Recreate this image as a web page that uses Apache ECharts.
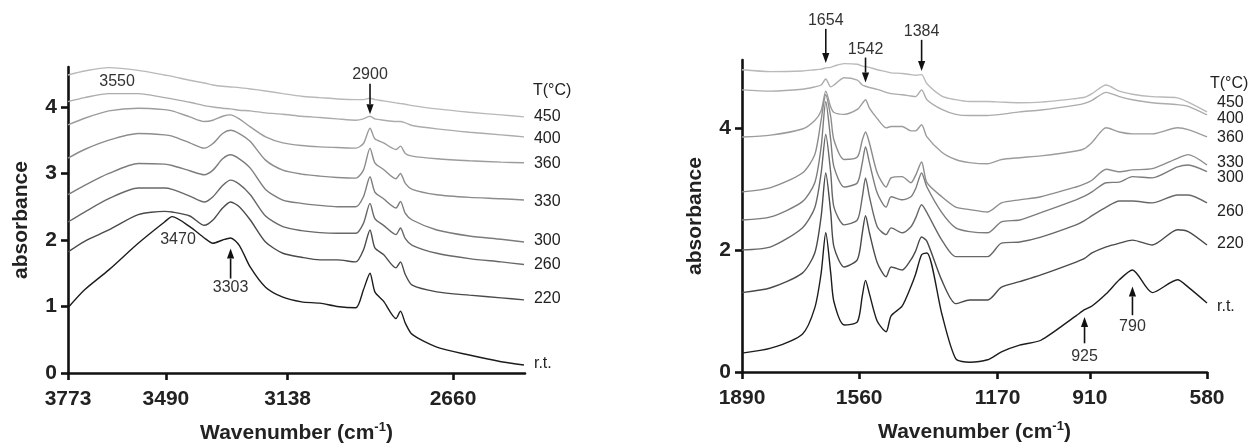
<!DOCTYPE html>
<html>
<head>
<meta charset="utf-8">
<script src="https://cdn.jsdelivr.net/npm/echarts@6/dist/echarts.min.js"></script>
<style>
  html, body { margin: 0; padding: 0; background: #ffffff; }
  #chart { width: 1250px; height: 445px; }
</style>
</head>
<body>
<div id="chart"></div>
<script>
// ---- Left panel: 3773–2450 cm-1 region ----
const LEFT_WAVENUMBER = [3773, 3725, 3655, 3570, 3494, 3472, 3421, 3379, 3354, 3326, 3303, 3278, 3246, 3202, 3152, 3098, 3045, 2995, 2941, 2919, 2900, 2886, 2861, 2825, 2812, 2798, 2778, 2707, 2613, 2521, 2455];
const LEFT_RT  = [0.98, 1.25, 1.55, 1.95, 2.27, 2.35, 2.20, 2.03, 1.95, 2.00, 2.03, 1.92, 1.59, 1.29, 1.14, 1.07, 1.05, 1.00, 0.98, 1.25, 1.50, 1.22, 1.08, 0.82, 0.93, 0.75, 0.58, 0.39, 0.27, 0.17, 0.12];
const LEFT_220 = [1.82, 1.98, 2.15, 2.38, 2.43, 2.42, 2.36, 2.22, 2.30, 2.48, 2.57, 2.50, 2.30, 1.97, 1.80, 1.74, 1.70, 1.70, 1.67, 1.85, 2.15, 1.88, 1.78, 1.58, 1.67, 1.48, 1.32, 1.22, 1.17, 1.13, 1.10];
const LEFT_260 = [2.27, 2.42, 2.62, 2.78, 2.78, 2.76, 2.66, 2.57, 2.65, 2.82, 2.90, 2.84, 2.68, 2.36, 2.20, 2.14, 2.11, 2.10, 2.10, 2.25, 2.55, 2.32, 2.22, 2.08, 2.18, 2.02, 1.92, 1.80, 1.72, 1.67, 1.63];
const LEFT_300 = [2.68, 2.82, 3.00, 3.15, 3.14, 3.12, 3.04, 2.98, 3.05, 3.22, 3.28, 3.22, 3.08, 2.76, 2.60, 2.55, 2.52, 2.50, 2.50, 2.65, 2.95, 2.72, 2.62, 2.48, 2.58, 2.40, 2.30, 2.15, 2.06, 2.01, 1.97];
const LEFT_330 = [3.23, 3.36, 3.50, 3.60, 3.58, 3.56, 3.46, 3.38, 3.45, 3.60, 3.65, 3.60, 3.48, 3.20, 3.05, 2.99, 2.96, 2.94, 2.93, 3.05, 3.38, 3.16, 3.06, 2.92, 3.00, 2.85, 2.76, 2.68, 2.64, 2.62, 2.60];
const LEFT_360 = [3.73, 3.83, 3.94, 3.98, 3.96, 3.94, 3.85, 3.78, 3.80, 3.86, 3.88, 3.82, 3.70, 3.55, 3.46, 3.42, 3.40, 3.39, 3.38, 3.45, 3.68, 3.52, 3.46, 3.36, 3.41, 3.30, 3.26, 3.22, 3.19, 3.17, 3.16];
const LEFT_400 = [4.08, 4.14, 4.20, 4.20, 4.14, 4.12, 4.07, 4.02, 4.00, 3.98, 3.97, 3.95, 3.94, 3.91, 3.89, 3.86, 3.84, 3.82, 3.80, 3.82, 3.86, 3.82, 3.80, 3.78, 3.78, 3.76, 3.72, 3.67, 3.62, 3.58, 3.55];
const LEFT_450 = [4.48, 4.54, 4.59, 4.55, 4.48, 4.46, 4.40, 4.36, 4.33, 4.31, 4.30, 4.29, 4.27, 4.24, 4.20, 4.16, 4.14, 4.12, 4.11, 4.11, 4.13, 4.11, 4.09, 4.06, 4.05, 4.04, 4.02, 3.97, 3.92, 3.88, 3.85];
const LEFT_X_TICKS = [3773, 3490, 3138, 2660];
const LEFT_Y_TICKS = [0, 1, 2, 3, 4];
const LEFT_BANDS = ['3550', '3470', '3303', '2900'];

// ---- Right panel: 1890–580 cm-1 region ----
const RIGHT_WAVENUMBER = [1890, 1809, 1720, 1685, 1667, 1654, 1640, 1631, 1602, 1565, 1551, 1542, 1531, 1509, 1484, 1470, 1439, 1414, 1401, 1384, 1369, 1327, 1288, 1249, 1198, 1159, 1108, 1048, 949, 925, 904, 864, 827, 790, 734, 663, 633, 580];
const RIGHT_RT  = [0.31, 0.39, 0.62, 1.05, 1.62, 2.28, 1.62, 1.15, 0.77, 0.82, 1.25, 1.50, 1.28, 0.83, 0.66, 0.92, 1.08, 1.40, 1.60, 1.92, 1.95, 0.95, 0.22, 0.16, 0.20, 0.33, 0.44, 0.52, 0.92, 1.02, 1.08, 1.28, 1.51, 1.67, 1.30, 1.51, 1.39, 1.13];
const RIGHT_220 = [1.30, 1.38, 1.62, 1.95, 2.55, 3.26, 2.61, 2.05, 1.72, 1.84, 2.28, 2.56, 2.28, 1.79, 1.56, 1.72, 1.67, 1.84, 1.98, 2.21, 2.14, 1.50, 1.12, 1.18, 1.18, 1.39, 1.48, 1.59, 1.80, 1.86, 1.95, 2.05, 2.11, 2.16, 2.08, 2.33, 2.30, 2.08];
const RIGHT_260 = [2.00, 2.05, 2.36, 2.69, 3.26, 3.89, 3.26, 2.70, 2.41, 2.49, 2.87, 3.18, 2.87, 2.38, 2.25, 2.36, 2.28, 2.38, 2.52, 2.74, 2.61, 2.16, 1.89, 1.89, 1.89, 2.11, 2.13, 2.21, 2.41, 2.48, 2.56, 2.70, 2.80, 2.80, 2.77, 2.90, 2.90, 2.77];
const RIGHT_300 = [2.49, 2.54, 2.79, 3.10, 3.69, 4.43, 3.80, 3.36, 3.03, 3.10, 3.43, 3.69, 3.43, 2.93, 2.70, 2.87, 2.82, 2.87, 3.00, 3.26, 3.03, 2.61, 2.36, 2.30, 2.28, 2.46, 2.49, 2.61, 2.82, 2.88, 2.95, 3.10, 3.11, 3.20, 3.18, 3.36, 3.39, 3.28];
const RIGHT_330 = [2.95, 3.02, 3.26, 3.56, 4.13, 4.54, 4.18, 3.80, 3.48, 3.52, 3.80, 3.93, 3.75, 3.26, 3.03, 3.18, 3.20, 3.10, 3.22, 3.44, 3.10, 2.87, 2.70, 2.66, 2.62, 2.77, 2.82, 2.87, 3.03, 3.08, 3.14, 3.32, 3.28, 3.31, 3.33, 3.50, 3.56, 3.39];
const RIGHT_360 = [3.85, 3.88, 3.98, 4.12, 4.28, 4.60, 4.34, 4.25, 4.22, 4.30, 4.40, 4.46, 4.32, 4.15, 4.00, 4.02, 4.02, 3.95, 3.95, 4.05, 3.85, 3.60, 3.48, 3.43, 3.41, 3.48, 3.51, 3.54, 3.62, 3.66, 3.76, 4.00, 3.93, 3.90, 3.90, 4.00, 3.97, 3.85];
const RIGHT_400 = [4.62, 4.60, 4.63, 4.67, 4.70, 4.80, 4.67, 4.70, 4.82, 4.78, 4.70, 4.68, 4.66, 4.63, 4.58, 4.56, 4.54, 4.52, 4.51, 4.62, 4.46, 4.30, 4.22, 4.20, 4.20, 4.22, 4.26, 4.29, 4.37, 4.40, 4.45, 4.58, 4.51, 4.46, 4.41, 4.38, 4.35, 4.21];
const RIGHT_450 = [4.95, 4.92, 4.93, 4.95, 4.96, 4.98, 4.99, 5.01, 5.05, 5.04, 5.01, 5.00, 4.99, 4.95, 4.92, 4.90, 4.89, 4.87, 4.86, 4.87, 4.72, 4.52, 4.46, 4.43, 4.43, 4.42, 4.41, 4.42, 4.48, 4.50, 4.56, 4.70, 4.60, 4.55, 4.51, 4.49, 4.42, 4.26];
const RIGHT_X_TICKS = [1890, 1560, 1170, 910, 580];
const RIGHT_Y_TICKS = [0, 2, 4];
const RIGHT_BANDS = ['1654', '1542', '1384', '925', '790'];

const TEMPERATURES = ['450', '400', '360', '330', '300', '260', '220', 'r.t.'];

// ---- styling ----
const FONT = '"Liberation Sans", Arial, Helvetica, sans-serif';
const CURVE_COLORS = ['#b9b9b9', '#acacac', '#9c9c9c', '#8c8c8c', '#7c7c7c', '#686868', '#4a4a4a', '#1c1c1c'];

function zip(xs, ys) { return xs.map((x, i) => [x, ys[i]]); }

function curveSeries(panel, name, xs, ys, colorIdx, labelDy) {
  return {
    type: 'line',
    name: name,
    xAxisIndex: panel, yAxisIndex: panel,
    data: zip(xs, ys),
    showSymbol: false,
    smooth: 0.25,
    silent: true,
    lineStyle: { color: CURVE_COLORS[colorIdx], width: 1.4 },
    itemStyle: { color: CURVE_COLORS[colorIdx] },
    endLabel: {
      show: true,
      formatter: name,
      color: '#222',
      fontFamily: FONT,
      fontSize: 16,
      distance: 0,
      align: 'left',
      offset: [10, labelDy]
    },
    z: 3
  };
}

// Band annotations: number text with an optional arrow pointing to the band
function annotationSeries(panel, items) {
  return {
    type: 'custom',
    xAxisIndex: panel, yAxisIndex: panel,
    silent: true,
    clip: false,
    z: 10,
    data: items.map(it => [it.w, it.textAt]),
    renderItem(params, api) {
      const it = items[params.dataIndex];
      const t = api.coord([it.w, it.textAt]);
      const children = [{
        type: 'text',
        style: {
          text: it.label, x: t[0], y: t[1], align: 'center', verticalAlign: 'middle',
          font: '16px ' + FONT, fill: '#333'
        }
      }];
      if (it.from !== undefined) {
        const p1 = api.coord([it.w, it.from]);
        const p2 = api.coord([it.w, it.to]);
        const dir = Math.sign(p2[1] - p1[1]);
        const head = 10, half = 3.6;
        children.push({
          type: 'line',
          shape: { x1: p1[0], y1: p1[1], x2: p2[0], y2: p2[1] - dir * head },
          style: { stroke: '#111', lineWidth: 1.6 }
        });
        children.push({
          type: 'polygon',
          shape: { points: [[p2[0], p2[1]], [p2[0] - half, p2[1] - dir * head], [p2[0] + half, p2[1] - dir * head]] },
          style: { fill: '#111' }
        });
      }
      return { type: 'group', children };
    }
  };
}

function xAxisFor(panel, min, max, ticks) {
  return {
    type: 'value', gridIndex: panel, inverse: true, min: min, max: max,
    name: 'Wavenumber (cm{sup|-1})',
    nameLocation: 'middle', nameGap: 48,
    nameTextStyle: {
      fontFamily: FONT, fontWeight: 'bold', fontSize: 21, color: '#222', lineHeight: 24,
      rich: { sup: { fontFamily: FONT, fontWeight: 'bold', fontSize: 13, color: '#222', verticalAlign: 'top', lineHeight: 24 } }
    },
    axisLine: { show: true, onZero: false, lineStyle: { color: '#111', width: 2.6 } },
    axisTick: { show: true, length: 7, customValues: ticks, lineStyle: { color: '#111', width: 2.6 } },
    axisLabel: {
      show: true, customValues: ticks, margin: 16, formatter: v => String(v),
      fontFamily: FONT, fontWeight: 'bold', fontSize: 21, color: '#222'
    },
    splitLine: { show: false }
  };
}

function yAxisFor(panel, max, ticks) {
  return {
    type: 'value', gridIndex: panel, min: 0, max: max,
    name: 'absorbance',
    nameLocation: 'middle', nameRotate: 90, nameGap: 36,
    nameTextStyle: { fontFamily: FONT, fontWeight: 'bold', fontSize: 21, color: '#222' },
    axisLine: { show: true, onZero: false, lineStyle: { color: '#111', width: 2.6 } },
    axisTick: { show: true, length: 7, customValues: ticks, lineStyle: { color: '#111', width: 2.6 } },
    axisLabel: {
      show: true, customValues: ticks, margin: 11, formatter: v => String(v),
      fontFamily: FONT, fontWeight: 'bold', fontSize: 21, color: '#222'
    },
    splitLine: { show: false }
  };
}

const leftCurves = [LEFT_450, LEFT_400, LEFT_360, LEFT_330, LEFT_300, LEFT_260, LEFT_220, LEFT_RT];
const rightCurves = [RIGHT_450, RIGHT_400, RIGHT_360, RIGHT_330, RIGHT_300, RIGHT_260, RIGHT_220, RIGHT_RT];
const leftLabelDy = [0, 2, 1, 2, -1, 0, -1, -1];
const rightLabelDy = [-9, 4, 1, -2, 6, 9, -1, 4];

const series = [];
leftCurves.forEach((ys, i) => series.push(curveSeries(0, TEMPERATURES[i], LEFT_WAVENUMBER, ys, i, leftLabelDy[i])));
rightCurves.forEach((ys, i) => series.push(curveSeries(1, TEMPERATURES[i], RIGHT_WAVENUMBER, ys, i, rightLabelDy[i])));

series.push(annotationSeries(0, [
  { label: LEFT_BANDS[0], w: 3631, textAt: 4.38 },
  { label: LEFT_BANDS[1], w: 3455, textAt: 2.0 },
  { label: LEFT_BANDS[2], w: 3303, textAt: 1.28, from: 1.42, to: 1.87 },
  { label: LEFT_BANDS[3], w: 2900, textAt: 4.48, from: 4.35, to: 3.89 }
]));
series.push(annotationSeries(1, [
  { label: RIGHT_BANDS[0], w: 1654, textAt: 5.75, from: 5.62, to: 5.06 },
  { label: RIGHT_BANDS[1], w: 1542, textAt: 5.28, from: 5.15, to: 4.74 },
  { label: RIGHT_BANDS[2], w: 1384, textAt: 5.57, from: 5.44, to: 4.93 },
  { label: RIGHT_BANDS[3], w: 925, textAt: 0.25, from: 0.47, to: 0.90 },
  { label: RIGHT_BANDS[4], w: 790, textAt: 0.75, from: 0.93, to: 1.40 }
]));

const chart = echarts.init(document.getElementById('chart'), null, { renderer: 'canvas' });
chart.setOption({
  backgroundColor: '#ffffff',
  animation: false,
  grid: [
    { left: 68, top: 67, width: 457, height: 306, containLabel: false, outerBoundsMode: 'none' },
    { left: 742, top: 60, width: 465, height: 312, containLabel: false, outerBoundsMode: 'none' }
  ],
  xAxis: [
    xAxisFor(0, 2452, 3773, LEFT_X_TICKS),
    xAxisFor(1, 580, 1890, RIGHT_X_TICKS)
  ],
  yAxis: [
    yAxisFor(0, 4.6, LEFT_Y_TICKS),
    yAxisFor(1, 5.11, RIGHT_Y_TICKS)
  ],
  graphic: [
    { type: 'text', left: 533, top: 83, style: { text: 'T(°C)', font: '16px ' + FONT, fill: '#222' } },
    { type: 'text', left: 1210, top: 76, style: { text: 'T(°C)', font: '16px ' + FONT, fill: '#222' } }
  ],
  series: series
});
</script>
</body>
</html>
